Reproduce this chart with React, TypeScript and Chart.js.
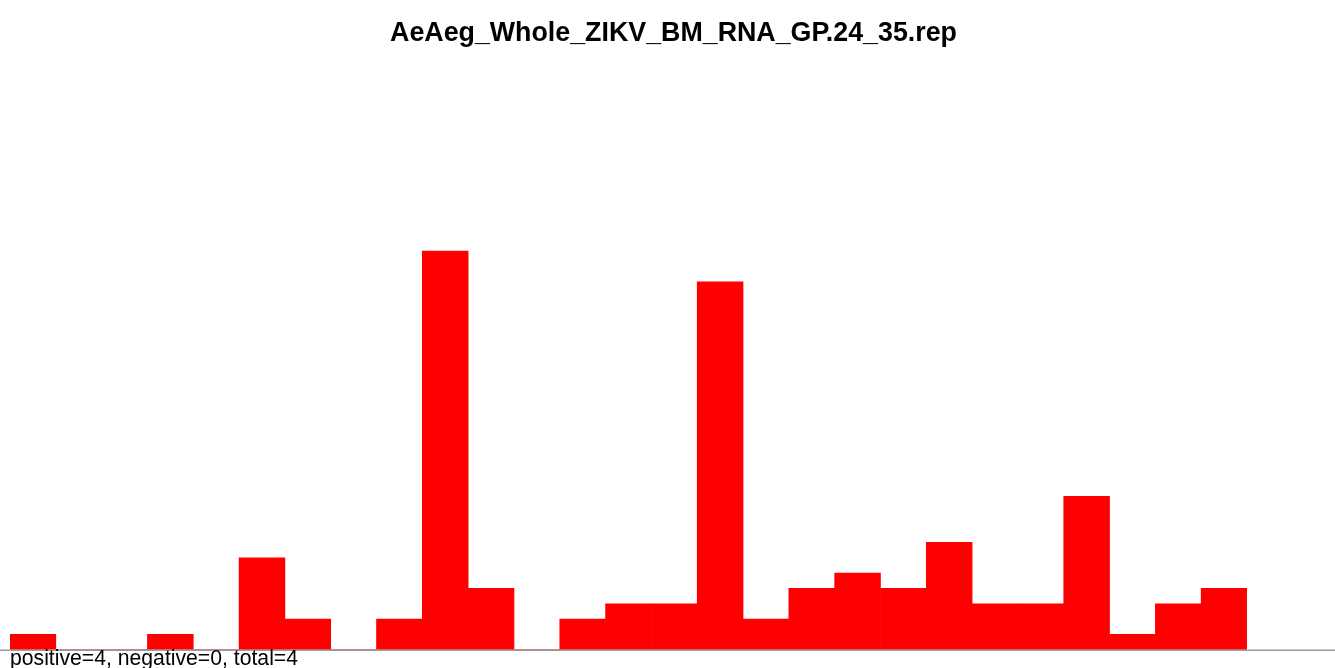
import React, { useEffect, useRef } from "react";
import { Chart, registerables } from "chart.js";

Chart.register(...registerables);

const TITLE = "AeAeg_Whole_ZIKV_BM_RNA_GP.24_35.rep";
const FOOTER = "positive=4, negative=0, total=4";
const BINS: string[] = Array.from({ length: 27 }, (_, i) => String(i + 1));
const COUNTS: number[] = [1, 0, 0, 1, 0, 6, 2, 0, 2, 26, 4, 0, 2, 3, 3, 24, 2, 4, 5, 4, 7, 3, 3, 10, 1, 3, 4];
const Y_MAX = 38;

const textPlugin = {
  id: "texts",
  afterDraw(chart: any) {
    const { ctx, width } = chart;
    const y0 = chart.scales.y.getPixelForValue(0);
    ctx.save();
    ctx.strokeStyle = "#9a9a9a";
    ctx.lineWidth = 1.5;
    ctx.beginPath();
    ctx.moveTo(0, y0 + 0.5);
    ctx.lineTo(width, y0 + 0.5);
    ctx.stroke();
    ctx.fillStyle = "#000";
    ctx.font = "bold 26.8px 'Liberation Sans', Arial, sans-serif";
    ctx.textAlign = "center";
    ctx.textBaseline = "alphabetic";
    ctx.fillText(TITLE, 673.5, 40.5);
    ctx.font = "21.2px 'Liberation Sans', Arial, sans-serif";
    ctx.textAlign = "left";
    ctx.fillText(FOOTER, 10, 665);
    ctx.restore();
  },
};

export default function App() {
  const ref = useRef<HTMLCanvasElement | null>(null);
  useEffect(() => {
    if (!ref.current) return;
    const chart = new Chart(ref.current, {
      type: "bar",
      data: {
        labels: BINS,
        datasets: [
          {
            data: COUNTS,
            backgroundColor: "#ff0000",
            borderWidth: 0,
            barPercentage: 1,
            categoryPercentage: 1,
          },
        ],
      },
      options: {
        animation: false,
        responsive: false,
        maintainAspectRatio: false,
        layout: { padding: { left: 10, right: 88, top: 67.2, bottom: 18.3 } },
        plugins: { legend: { display: false }, title: { display: false }, tooltip: { enabled: false } },
        scales: {
          x: { display: false },
          y: { display: false, min: 0, max: Y_MAX },
        },
      },
      plugins: [textPlugin],
    });
    return () => chart.destroy();
  }, []);
  return (
    <div style={{ position: "fixed", left: 0, top: 0, width: 1335, height: 668, background: "#fff" }}>
      <canvas ref={ref} width={1335} height={668} style={{ display: "block" }} />
    </div>
  );
}
